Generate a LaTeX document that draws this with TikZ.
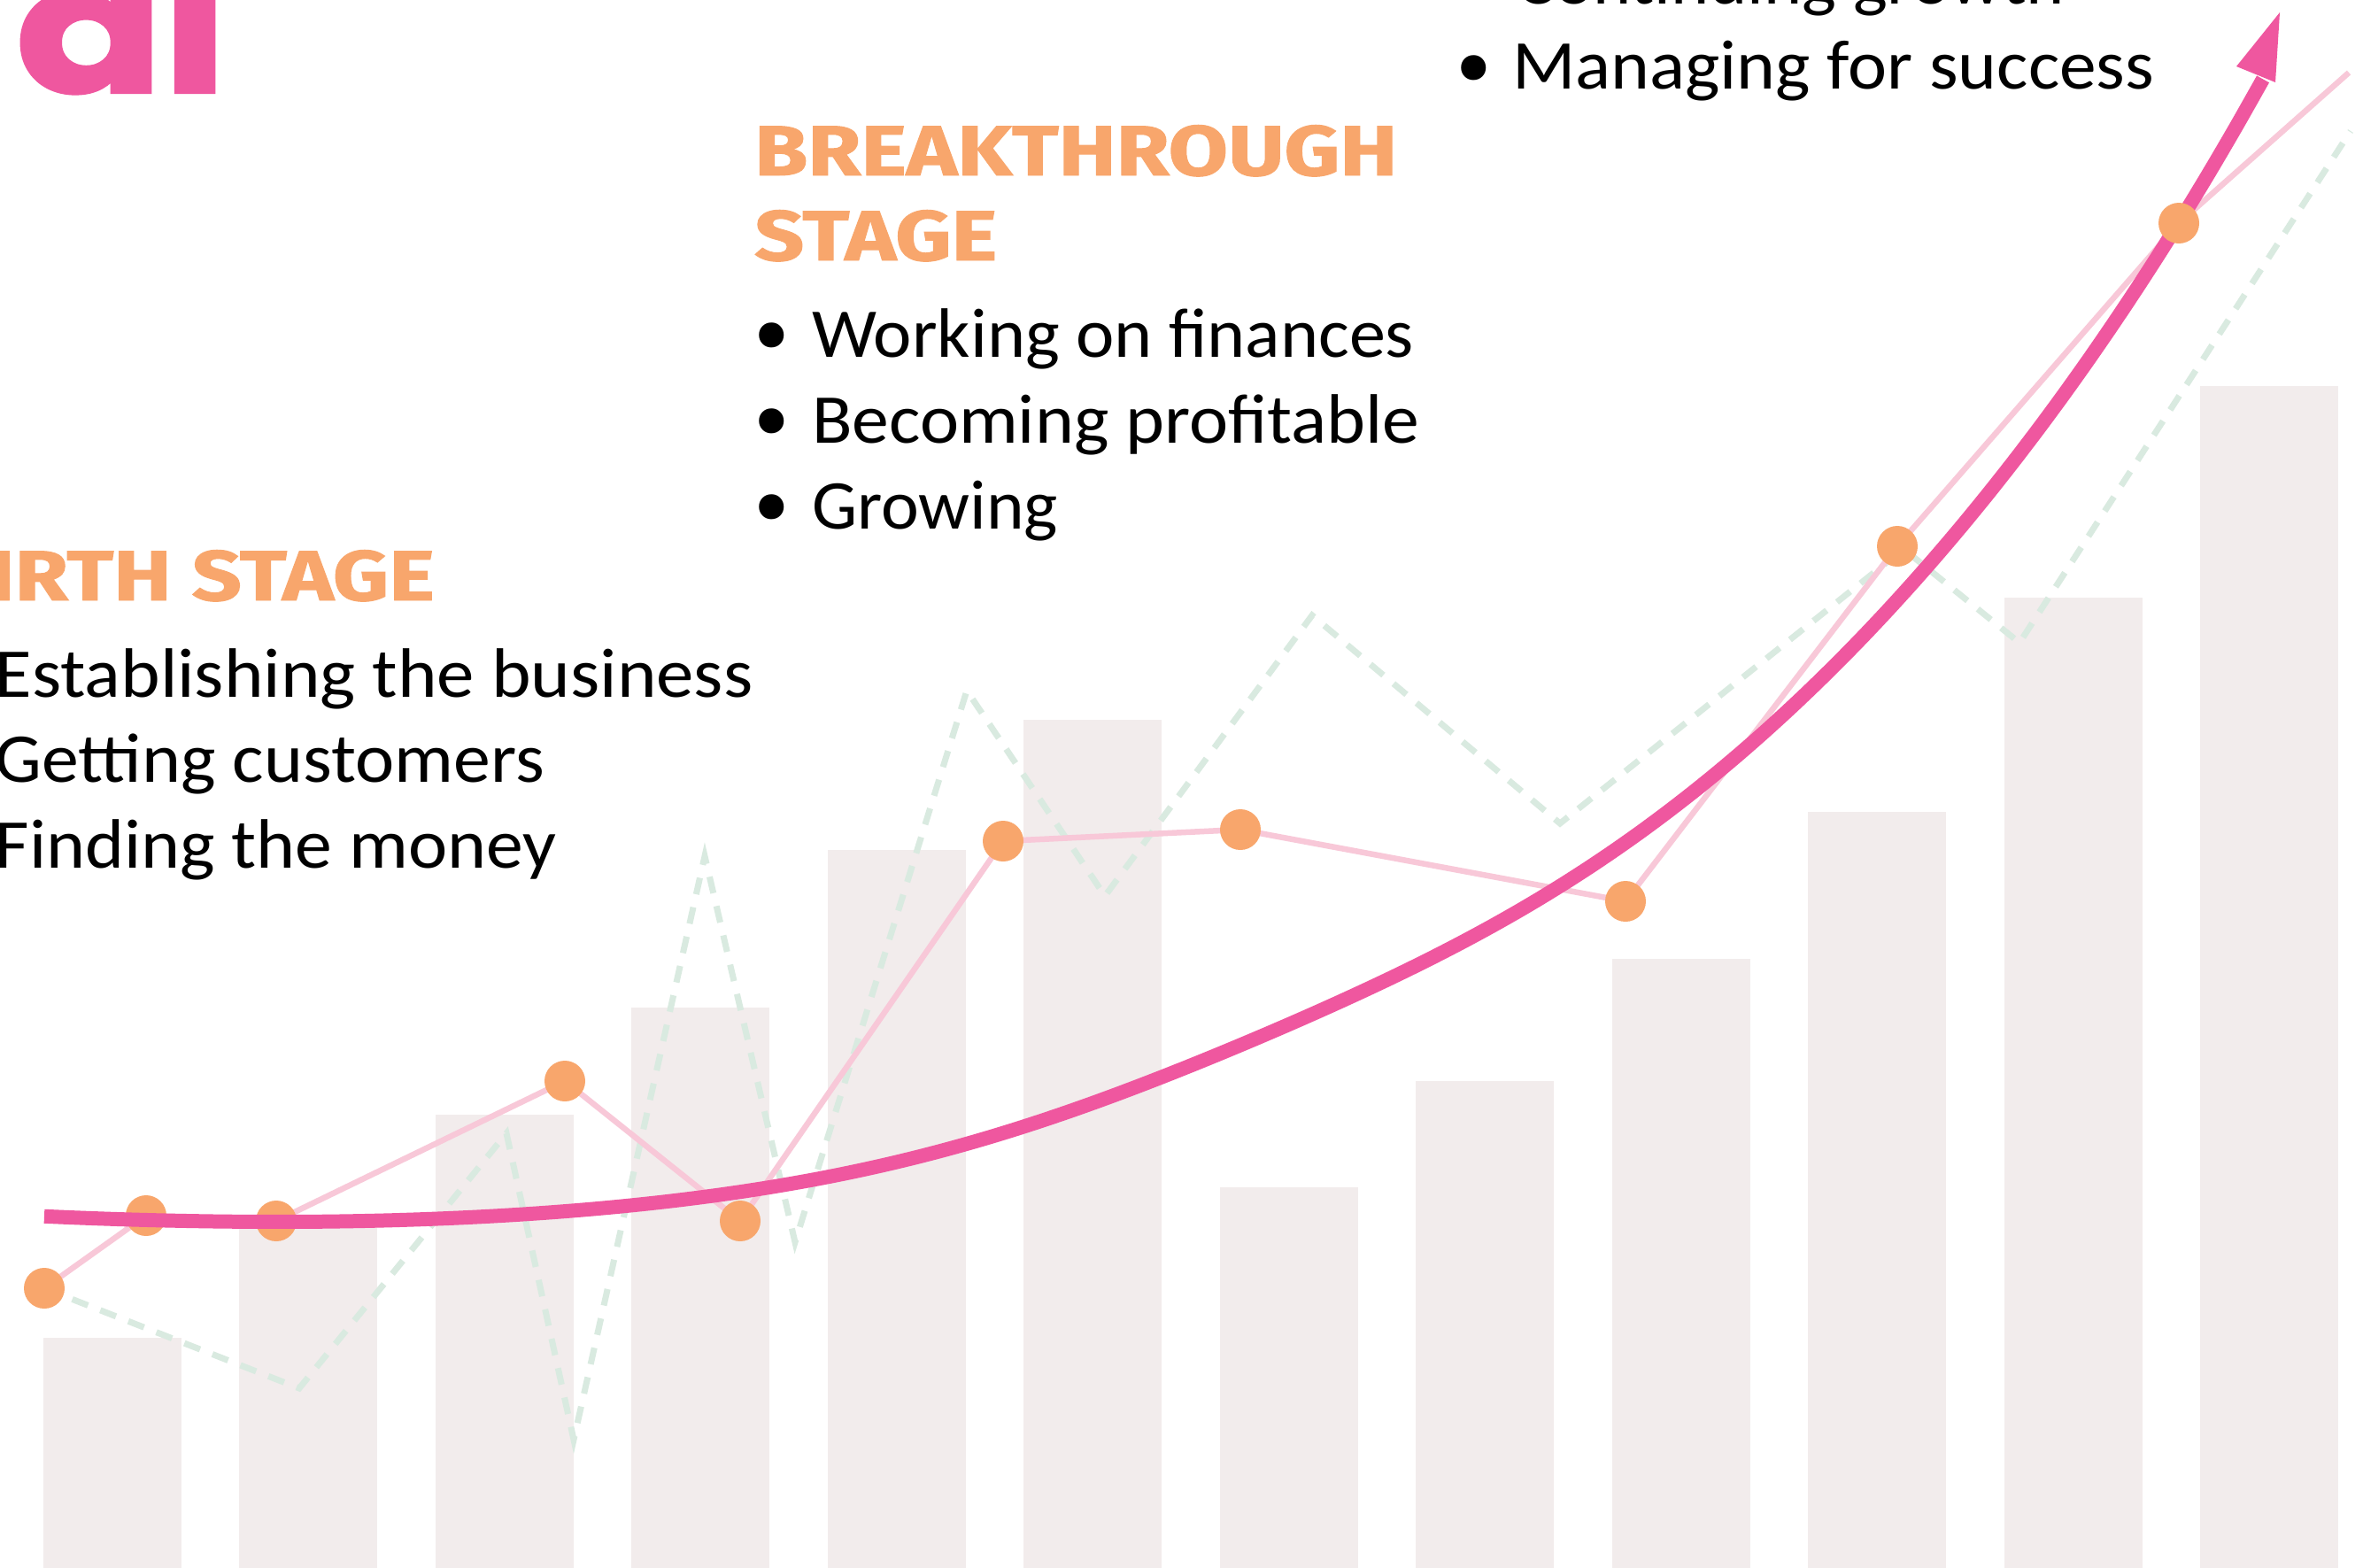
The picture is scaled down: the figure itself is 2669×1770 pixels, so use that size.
\documentclass[tikz,border=0pt]{standalone}
\usepackage{fontspec}
\usepackage{graphicx}
\setmainfont{Carlito}
\newfontfamily\firafam{Fira Sans}
\newfontfamily\ttlfam{Fira Sans}[FakeBold=1.2]
\newfontfamily\alfont{Poppins}[FakeBold=2]
\definecolor{hot}{RGB}{239,87,159}
\definecolor{org}{RGB}{248,166,108}
\definecolor{lpink}{RGB}{248,200,216}
\definecolor{lgreen}{RGB}{217,234,224}
\definecolor{barc}{RGB}{242,236,236}
\newcommand\bodyf{\fontsize{79}{79}\selectfont}
\newcommand\bulf{\firafam\fontsize{125}{125}\selectfont}
\newcommand\ttlf{\ttlfam\bfseries\fontsize{80}{80}\selectfont}
\newcommand\fitw[2]{\resizebox{#1}{\height}{#2}}
\newlength\stw
\newlength\bsw
\newlength\bswid
\AtBeginDocument{%
  \settowidth\stw{\ttlf STAGE}%
  \settowidth\bsw{\ttlf BIRTH STAGE}%
  \setlength\bswid{\dimexpr 274pt*\bsw/\stw\relax}%
}
\begin{document}
\begin{tikzpicture}[x=1pt,y=-1pt,
  bar/.style={fill=barc},
  dot/.style={circle,fill=org,inner sep=0pt,minimum size=46pt},
  thinline/.style={draw=lpink,line width=6.5pt,line join=round},
  dashline/.style={draw=lgreen,line width=7pt,dash pattern=on 19pt off 15pt},
  curveline/.style={draw=hot,line width=16pt},
  bodytxt/.style={inner sep=0pt,font=\bodyf,text=black},
  bultxt/.style={inner sep=0pt,font=\bulf,text=black},
  ttltxt/.style={inner sep=0pt,font=\ttlf,text=org},
  bigtxt/.style={inner sep=0pt,text=hot},
]
\useasboundingbox (0,0) rectangle (2669,1770);
\clip (0,0) rectangle (2669,1770);
\fill[white] (0,0) rectangle (2669,1770);

% bars
\foreach \i/\t in {0/1511,1/1383,2/1259,3/1138,4/960,5/813,6/1341,7/1221,8/1083,9/917,10/675,11/436}
  \fill[bar] ({49+221.45*\i},\t) rectangle ({205+221.45*\i},1800);

% data points
\coordinate (c1) at (50,1455);
\coordinate (c2) at (165,1373);
\coordinate (c3) at (312,1379);
\coordinate (c4) at (638,1221);
\coordinate (c5) at (836,1379);
\coordinate (c6) at (1133,950);
\coordinate (c7) at (1401,937);
\coordinate (c8) at (1836,1018);
\coordinate (c9) at (2143,617);
\coordinate (c10) at (2461,252);
\coordinate (cend) at (2653,82);

% green dashed series
\draw[dashline] (c1) -- (338,1568) -- (572,1280) -- (648,1626) -- (796,967) -- (898,1403)
  -- (1092,780) -- (1248,1012) -- (1482,695) -- (1762,930) -- (2150,620) -- (2281,726) -- (2655,148);

% light pink series
\draw[thinline] (c1) -- (c2) -- (c3) -- (c4) -- (c5) -- (c6) -- (c7) -- (c8) -- (c9) -- (c10) -- (cend);

\node[dot] (p2) at (c2) {};
\node[dot] (p3) at (c3) {};

% main trend curve
\draw[curveline] plot[domain=50:2556,samples=90,smooth]
  (\x,{1380-178*(exp((\x-312)/950)-1-(\x-312)/950)-22*exp(-((\x-1450)/350)^2)}) coordinate (cvend);
\coordinate (tip) at (2575,14);
\fill[hot] (tip) -- (2526,75) -- (2570,93) -- cycle;

\node[dot] (p1) at (c1) {};
\node[dot] (p4) at (c4) {};
\node[dot] (p5) at (c5) {};
\node[dot] (p6) at (c6) {};
\node[dot] (p7) at (c7) {};
\node[dot] (p8) at (c8) {};
\node[dot] (p9) at (c9) {};
\node[dot] (p10) at (c10) {};

% big pink letters
\node[bigtxt,anchor=base west] (al) at (18,104) {\fitw{238pt}{\alfont\bfseries\fontsize{200}{200}\selectfont al}};

% Breakthrough stage
\node[ttltxt,anchor=base west] (bt1) at (852,198) {\fitw{726pt}{BREAKTHROUGH}};
\node[ttltxt,anchor=base west] (bt2) at (852,294) {\fitw{274pt}{STAGE}};
\node[bultxt] (bb1) at (872,393) {•};
\node[bultxt] (bb2) at (872,490) {•};
\node[bultxt] (bb3) at (872,587) {•};
\node[bodytxt,anchor=base west] (bi1) at (917,403) {\fitw{680pt}{Working on finances}};
\node[bodytxt,anchor=base west] (bi2) at (917,500) {\fitw{686pt}{Becoming profitable}};
\node[bodytxt,anchor=base west] (bi3) at (917,597) {\fitw{278pt}{Growing}};

% Birth stage
\node[ttltxt,anchor=base east] (brt) at (491,678) {\fitw{\bswid}{BIRTH STAGE}};
\node[bodytxt,anchor=base east] (br1) at (851,787) {\fitw{856pt}{Establishing the business}};
\node[bodytxt,anchor=base east] (br2) at (615,883) {\fitw{620pt}{Getting customers}};
\node[bodytxt,anchor=base east] (br3) at (629,980) {\fitw{634pt}{Finding the money}};

% top right list
\node[bodytxt,anchor=base west] (tr1) at (1712,4) {\fitw{620pt}{Continuing growth}};
\node[bultxt] (tb2) at (1665,91) {•};
\node[bodytxt,anchor=base west] (tr2) at (1708,100) {\fitw{725pt}{Managing for success}};
\end{tikzpicture}
\end{document}
